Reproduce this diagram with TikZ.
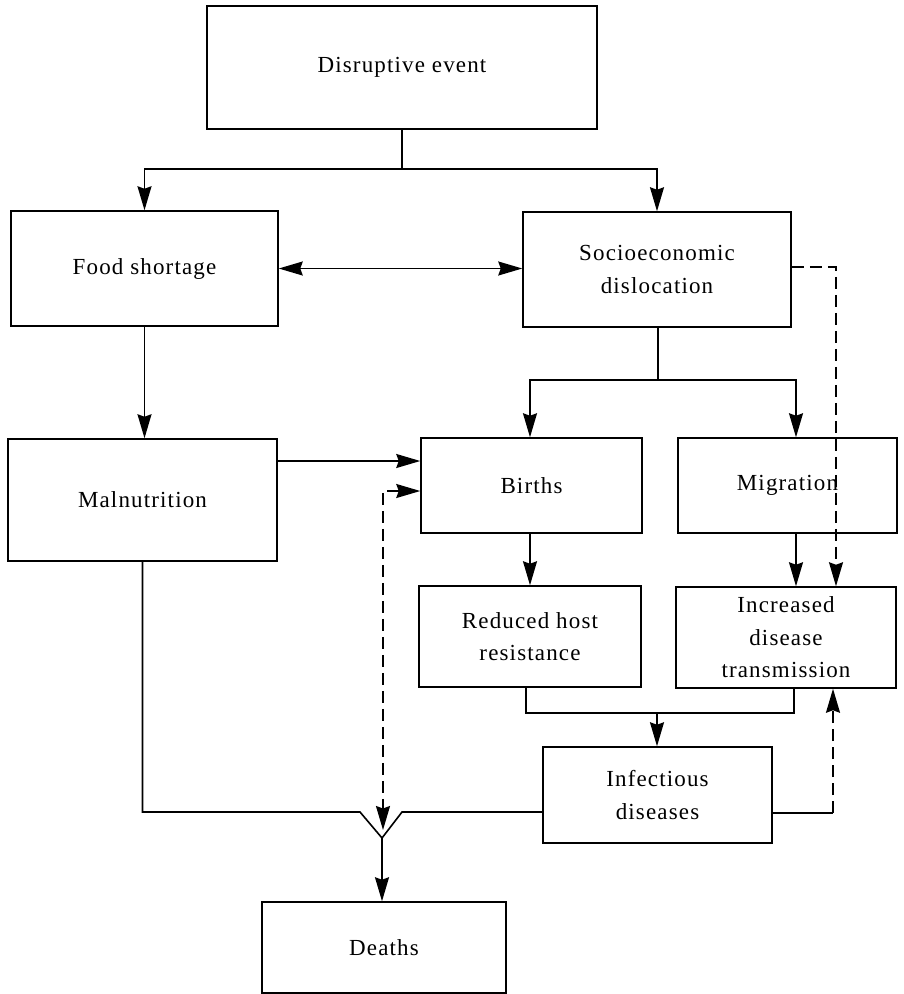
\documentclass[tikz,border=0pt]{standalone}
\usepackage{fontspec}
\setmainfont{Liberation Serif}[LetterSpace=5]
\usetikzlibrary{arrows.meta}
\begin{document}
\begin{tikzpicture}[x=1pt,y=-1pt,
  box/.style={draw, line width=1.5pt, rectangle, inner sep=0pt, align=center,
    font=\fontsize{23}{32.5}\selectfont},
  conn/.style={line width=1.6pt},
  tip/.tip={Stealth[length=24pt,width=14pt,inset=2.5pt]},
  arr/.style={conn, -tip},
  arrtwo/.style={conn, tip-tip},
  dsh/.style={dash pattern=on 12pt off 6pt}
]
\useasboundingbox[fill=white] (0,0) rectangle (904,994);

% boxes
\node[box, minimum width=390, minimum height=123] (dis) at (402,67.5) {Disruptive event};
\node[box, minimum width=267, minimum height=115] (food) at (144.5,268.5) {Food shortage};
\node[box, minimum width=268, minimum height=115] (socio) at (657,269.5) {Socioeconomic\\dislocation};
\node[box, minimum width=269, minimum height=122] (mal) at (142.5,500) {Malnutrition};
\node[box, minimum width=221, minimum height=95] (births) at (531.5,485.5) {Births};
\node[box, minimum width=219, minimum height=95] (migr) at (787.5,485.5) {Migration};
\node[box, minimum width=222, minimum height=101] (red) at (530,636.5) {Reduced host\\resistance};
\node[box, minimum width=220, minimum height=101] (inc) at (786,637.5) {Increased\\disease\\transmission};
\node[box, minimum width=229, minimum height=96] (inf) at (657.5,795) {Infectious\\diseases};
\node[box, minimum width=244, minimum height=91] (deaths) at (384,947.5) {Deaths};

% junction coordinates
\coordinate (j1) at (402,169);
\coordinate (j2) at (658,380);
\coordinate (j3) at (657,713);
\coordinate (mx) at (796,0);
\coordinate (dA) at (836,267);
\coordinate (dB) at (383,491);
\coordinate (dC) at (383,830);
\coordinate (dD) at (833,813);
\coordinate (ya) at (0,461);
\coordinate (yb) at (0,812);
\coordinate (va) at (360,812);
\coordinate (vb) at (382,838);
\coordinate (vc) at (402,812);

% disruptive event split
\draw[conn] (dis.south) -- (j1);
\draw[arr] (j1) -| (food.north);
\draw[arr] (j1) -| (socio.north);

% food <-> socio
\draw[arrtwo] (food.east) -- (food.east -| socio.west);

% socio dashed to increased
\draw[arr, dsh] (socio.east |- dA) -- (dA) -- (dA |- inc.north);

% socio split
\draw[conn] (socio.south -| j2) -- (j2);
\draw[arr] (j2) -| (red.north |- births.north);
\draw[arr] (j2) -| (mx |- migr.north);

% food -> malnutrition
\draw[arr] (food.south) -- (food.south |- mal.north);

% malnutrition -> births
\draw[arr] (mal.east |- ya) -- (births.west |- ya);

% dashed births <-> deaths merge
\draw[arrtwo, dsh] (births.west |- dB) -- (dB) -- (dC);

% births -> reduced host ; migration -> increased
\draw[arr] (red.north |- births.south) -- (red.north);
\draw[arr] (mx |- migr.south) -- (mx |- inc.north);

% merge to infectious
\draw[conn] ([xshift=-4pt]red.south) |- (j3) -| ([xshift=8pt]inc.south);
\draw[arr] (j3) -- (j3 |- inf.north);

% infectious dashed to increased
\draw[conn] (inf.east |- dD) -- (dD);
\draw[arr, dsh] (dD) -- (dD |- inc.south);

% malnutrition + infectious merge to deaths
\draw[conn, line join=miter] (mal.south) |- (va) -- (vb) -- (vc) -- (inf.west |- yb);
\draw[arr] (vb) -- (vb |- deaths.north);
\end{tikzpicture}
\end{document}
